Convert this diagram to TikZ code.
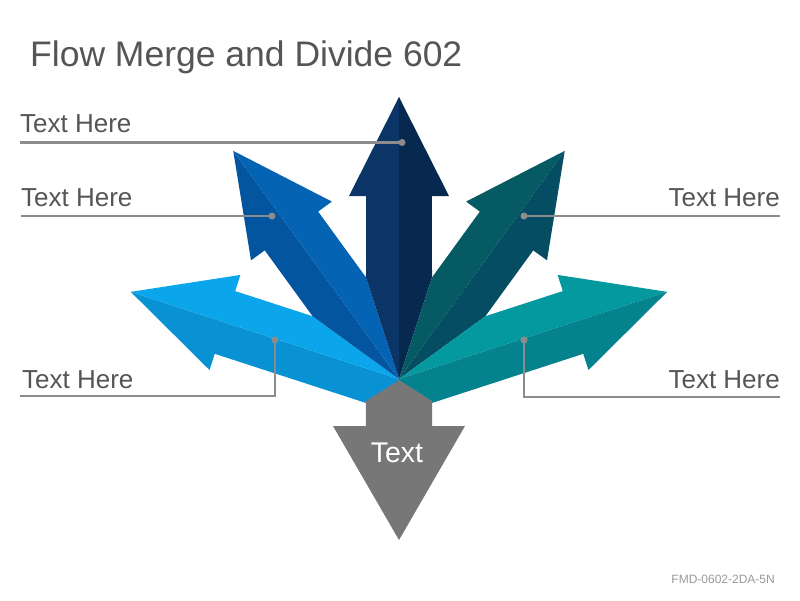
\documentclass[tikz,border=0pt]{standalone}
\usepackage{fontspec}
\setmainfont{Liberation Sans}
\usetikzlibrary{calc}
\definecolor{navyL}{HTML}{0B3566}
\definecolor{navyD}{HTML}{08294F}
\definecolor{blueL}{HTML}{0563B3}
\definecolor{blueD}{HTML}{0455A0}
\definecolor{lblueL}{HTML}{0AA5EA}
\definecolor{lblueD}{HTML}{0892D4}
\definecolor{tealL}{HTML}{065A63}
\definecolor{tealD}{HTML}{044D62}
\definecolor{lteaL}{HTML}{04999E}
\definecolor{lteaD}{HTML}{04838F}
\definecolor{greyA}{HTML}{777777}
\definecolor{leadc}{HTML}{8C8C8C}
\definecolor{txtc}{HTML}{555555}
\definecolor{footc}{HTML}{999999}
% angle, side sign, colour, end angle offset (18 = taper, 90 = straight)
\newcommand{\halfarrow}[4]{%
  \fill[#3] (0,0) -- (#1:282) -- ({#1+(#2)*15.28}:189.7) -- ({#1+(#2)*10.22}:185.95)
    -- ({#1+(#2)*#4}:{33/sin(#4)}) -- cycle;}
\tikzset{
  leader/.style={draw=leadc, line width=2.5pt},
  dotmark/.style={fill=leadc},
  labeltext/.style={inner sep=0pt, text=txtc, font=\fontsize{26}{30}\selectfont},
}
\begin{document}
\begin{tikzpicture}[x=1pt,y=1pt]
\useasboundingbox (-399,-221) rectangle (401,379);
\fill[white] (-399,-221) rectangle (401,379);
% arrows
\halfarrow{162}{1}{lblueD}{90}
\halfarrow{162}{-1}{lblueL}{18}
\halfarrow{126}{1}{blueD}{18}
\halfarrow{126}{-1}{blueL}{18}
\halfarrow{90}{1}{navyL}{18}
\halfarrow{90}{-1}{navyD}{18}
\halfarrow{54}{1}{tealL}{18}
\halfarrow{54}{-1}{tealD}{18}
\halfarrow{18}{1}{lteaL}{18}
\halfarrow{18}{-1}{lteaD}{90}
% grey down arrow
\fill[greyA] (0,-1) -- (33,-22) -- (33,-47) -- (66,-47) -- (0,-161) -- (-66,-47) -- (-33,-47) -- (-33,-22) -- cycle;
\node[inner sep=0pt, anchor=base, text=white, font=\fontsize{28.5}{32}\selectfont] (gtext) at (-2,-83) {Text};
% title
\node[inner sep=0pt, anchor=base west, text=txtc, font=\fontsize{35.5}{40}\selectfont] (title) at (-369,312) {Flow Merge and Divide 602};
% labels
\node[labeltext, anchor=base west] (lab1) at (-379,246) {Text Here};
\node[labeltext, anchor=base west] (lab2) at (-378,172) {Text Here};
\node[labeltext, anchor=base west] (lab3) at (-377,-9) {Text Here};
\node[labeltext, anchor=base east] (lab4) at (381,172) {Text Here};
\node[labeltext, anchor=base east] (lab5) at (381,-9) {Text Here};
% leader coordinates
\coordinate (s1) at (-379,236.5);
\coordinate (d1) at (3,236.5);
\coordinate (s2) at (-378,163);
\coordinate (d2) at (-127,163);
\coordinate (s3) at (-379,-17);
\coordinate (k3) at (-124,-17);
\coordinate (d3) at (-124,39);
\coordinate (s4) at (381,163);
\coordinate (d4) at (125,163);
\coordinate (s5) at (381,-18);
\coordinate (k5) at (125,-18);
\coordinate (d5) at (125,39);
\draw[leader] (s1) -- (d1);
\draw[leader] (s2) -- (d2);
\draw[leader] (s3) -- (k3) -- (d3);
\draw[leader] (s4) -- (d4);
\draw[leader] (s5) -- (k5) -- (d5);
\foreach \d in {d1,d2,d3,d4,d5} \fill[dotmark] (\d) circle (3.5);
% footer
\node[inner sep=0pt, anchor=base east, text=footc, font=\fontsize{12}{14}\selectfont] (footer) at (376,-204) {FMD-0602-2DA-5N};
\end{tikzpicture}
\end{document}
